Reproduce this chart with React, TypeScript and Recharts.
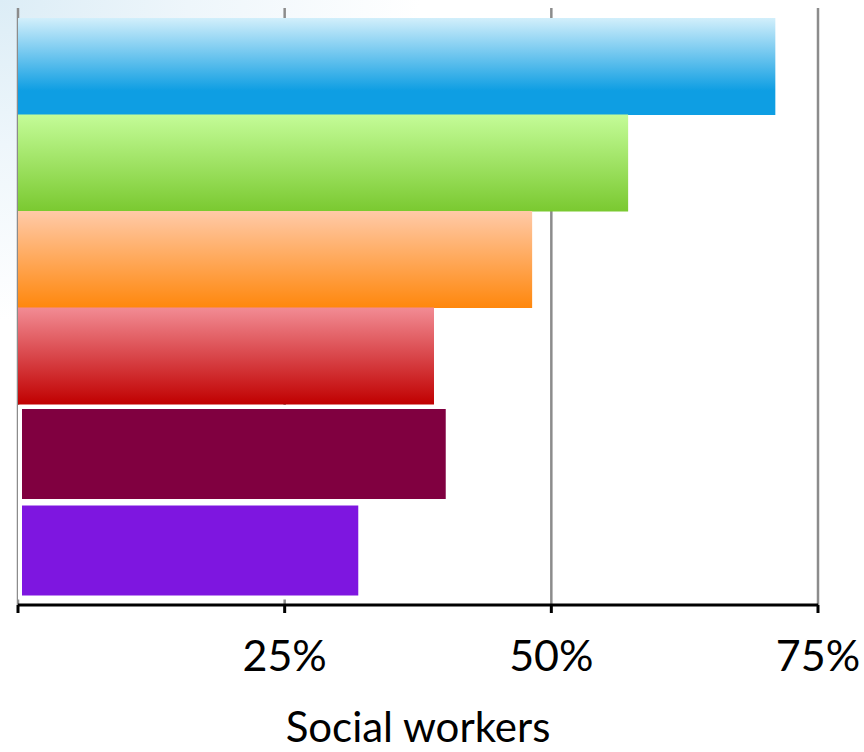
import { BarChart, Bar, XAxis, YAxis, CartesianGrid, Cell } from 'recharts';

const groups = ['A', 'B', 'C', 'D', 'E', 'F'];
const shares = [71, 57.2, 48.2, 39, 40.1, 31.9];
const xTicks = [0, 25, 50, 75];

const gradients = [
  { id: 'gBlue', top: '#d2effb', bottom: '#0e9ee3', stop: '75%' },
  { id: 'gGreen', top: '#c4fc98', bottom: '#7ac930', stop: '100%' },
  { id: 'gOrange', top: '#ffcaa8', bottom: '#ff870c', stop: '100%' },
  { id: 'gRed', top: '#f28c94', bottom: '#c00000', stop: '100%' },
];
const fills = ['url(#gBlue)', 'url(#gGreen)', 'url(#gOrange)', 'url(#gRed)', '#800040', '#7e16e0'];
const framed = [false, false, false, false, true, true];

const data = groups.map((g, i) => ({ name: g, value: shares[i] }));

const BarShape = (props: any) => {
  const { x, y, width, height, index } = props;
  if (framed[index]) {
    return (
      <rect
        x={x + 2}
        y={y + 3}
        width={Math.max(width, 0)}
        height={height - 3}
        fill={fills[index]}
        stroke="#ffffff"
        strokeWidth={4}
      />
    );
  }
  return <rect x={x} y={y} width={width} height={height} fill={fills[index]} />;
};

export default function App() {
  return (
    <div
      style={{
        position: 'absolute',
        left: 0,
        top: 0,
        width: 864,
        height: 752,
        background:
          'radial-gradient(ellipse 420px 320px at 0px 0px, #dcedf6 0%, #eef6fb 45%, #ffffff 100%)',
      }}
    >
      <BarChart
        width={864}
        height={752}
        data={data}
        layout="vertical"
        barCategoryGap={0}
        margin={{ top: 8, right: 46, bottom: 0, left: 18 }}
      >
        <defs>
          {gradients.map((g) => (
            <linearGradient key={g.id} id={g.id} x1="0" y1="0" x2="0" y2="1">
              <stop offset="0%" stopColor={g.top} />
              <stop offset={g.stop} stopColor={g.bottom} />
              <stop offset="100%" stopColor={g.bottom} />
            </linearGradient>
          ))}
        </defs>
        <CartesianGrid horizontal={false} stroke="#8c8c8c" strokeWidth={2.5} />
        <XAxis
          type="number"
          domain={[0, 75]}
          ticks={xTicks}
          tickFormatter={(v) => (v === 0 ? '' : `${v}%`)}
          height={147}
          tickSize={8}
          tickMargin={27}
          axisLine={{ stroke: '#000', strokeWidth: 3 }}
          tickLine={{ stroke: '#000', strokeWidth: 3 }}
          tick={{ fill: '#000', fontSize: 43, fontFamily: 'Lato, sans-serif' }}
          label={{
            value: 'Social workers',
            position: 'insideBottom',
            offset: 10,
            fill: '#000',
            fontSize: 42,
            fontFamily: 'Lato, sans-serif',
          }}
        />
        <YAxis
          type="category"
          dataKey="name"
          width={0}
          tick={false}
          tickLine={false}
          padding={{ top: 10, bottom: 8 }}
          axisLine={{ stroke: '#000', strokeWidth: 3 }}
        />
        <Bar dataKey="value" isAnimationActive={false} shape={BarShape}>
          {data.map((d, i) => (
            <Cell key={d.name} fill={fills[i]} />
          ))}
        </Bar>
      </BarChart>
    </div>
  );
}
